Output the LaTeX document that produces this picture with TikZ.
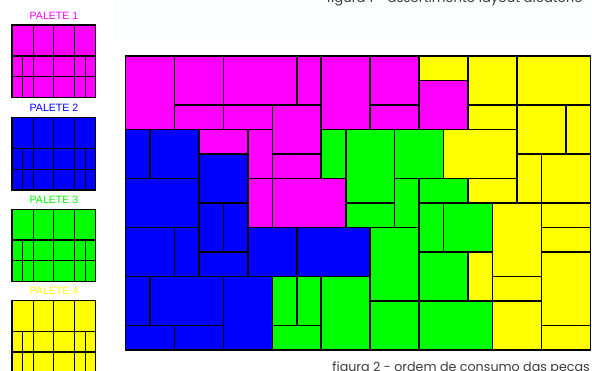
\documentclass[tikz,border=0pt]{standalone}
\usepackage{fontspec}
\setmainfont{Liberation Sans}
\newfontfamily\capfont{Poppins}
\definecolor{pmag}{RGB}{255,0,255}
\definecolor{pblu}{RGB}{0,0,255}
\definecolor{pgrn}{RGB}{0,255,0}
\definecolor{pyel}{RGB}{255,255,0}
\definecolor{captone}{RGB}{60,60,60}
\definecolor{tintbg}{RGB}{251,253,255}
\tikzset{
  piece/.style={draw=black,line width=1.6pt,line join=miter},
  palbox/.style={draw=black,line width=1.3pt},
  pallabel/.style={font=\fontsize{10.6}{12}\selectfont,anchor=center,inner sep=0pt},
  captext/.style={text=captone,inner sep=0pt,anchor=base east}
}
\newcommand{\palette}[5]{% colour, top, line1, line2, bottom
  \fill[#1] (12,#2) rectangle (95.7,#5);
  \draw[palbox] (12,#2) rectangle (95.7,#5);
  \draw[palbox] (12,#3) -- (95.7,#3) (12,#4) -- (95.7,#4);
  \draw[palbox] (33.3,#2) -- (33.3,#5) (53.7,#2) -- (53.7,#5) (74.3,#2) -- (74.3,#5);
  \draw[palbox] (22.7,#3) -- (22.7,#5) (85.3,#3) -- (85.3,#5);
}
\newcommand{\piecefills}[2]{%
  \foreach \a/\b/\c/\d in #2 {\fill[#1] (\a,\b) rectangle (\c,\d);}
}
\newcommand{\pieceedges}[1]{%
  \foreach \a/\b/\c/\d in #1 {\draw[piece] (\a,\b) rectangle (\c,\d);}
}
\newcommand{\magset}{0/0/2/3,2/0/4/2,4/0/7/2,7/0/8/2,8/0/10/3,10/0/12/2,10/2/12/3,12/1/14/3,2/2/4/3,4/2/6/3,6/2/8/4,6/4/8/5,3/3/5/4,5/3/6/5,5/5/6/7,6/5/9/7}
\newcommand{\bluset}{0/3/1/5,1/3/3/5,0/5/3/7,3/4/5/6,3/6/4/8,4/6/5/8,3/8/5/9,0/7/2/9,2/7/3/9,5/7/7/9,7/7/10/9,0/9/1/11,1/9/4/11,4/9/6/12,0/11/2/12,2/11/4/12}
\newcommand{\grnset}{8/3/9/5,9/3/11/6,11/3/13/5,9/6/11/7,11/5/12/7,12/5/14/6,12/6/13/8,13/6/15/8,12/8/14/10,10/7/12/10,10/10/12/12,12/10/15/12,8/9/10/12,6/9/7/11,7/9/8/11,6/11/8/12}
\newcommand{\yelset}{12/0/14/1,14/0/16/2,16/0/19/2,14/2/16/3,16/2/18/4,18/2/19/4,13/3/16/5,14/5/16/6,16/4/17/6,17/4/19/6,15/6/17/9,15/9/17/10,15/10/17/12,17/6/19/7,17/7/19/8,17/8/19/11,17/11/19/12,14/8/15/10}
\begin{document}
\begin{tikzpicture}[x=1pt,y=-1pt]
\useasboundingbox (0,0) rectangle (592,371);
\clip (0,0) rectangle (592,371);
\fill[white] (0,0) rectangle (592,371);
\fill[tintbg] (113,0) rectangle (592,40);
\node[captext,font=\capfont\fontsize{13.2}{15}\selectfont] (cap1) at (583,2.5) {figura 1 - assortimento layout aleatório};
\node[captext,font=\capfont\fontsize{12.7}{15}\selectfont] (cap2) at (590,371.5) {figura 2 - ordem de consumo das peças};
\node[pallabel,text=pmag] (l1) at (54,16) {PALETE 1};
\node[pallabel,text=pblu] (l2) at (54,108) {PALETE 2};
\node[pallabel,text=pgrn] (l3) at (54,200) {PALETE 3};
\node[pallabel,text=pyel] (l4) at (54,291) {PALETE 4};
\palette{pmag}{25}{56}{76.7}{97.5}
\palette{pblu}{117.3}{148.3}{169.3}{190}
\palette{pgrn}{209.3}{240}{260.7}{281.7}
\palette{pyel}{300.3}{331.3}{352}{373}
\begin{scope}[shift={(125.5,56)},x=24.47pt,y=-24.5pt]
\piecefills{pmag}{\magset}
\piecefills{pblu}{\bluset}
\piecefills{pgrn}{\grnset}
\piecefills{pyel}{\yelset}
\pieceedges{\magset}
\pieceedges{\bluset}
\pieceedges{\grnset}
\pieceedges{\yelset}
\end{scope}
\end{tikzpicture}
\end{document}
